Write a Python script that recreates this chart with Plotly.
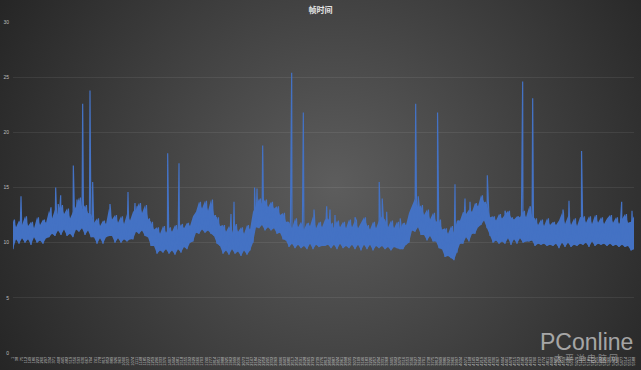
import base64
import plotly.graph_objects as go

# ---------------- data ----------------
chart_title = "帧时间"
FRAME_STEP = 27          # frames per sampled bucket
LABEL_STEP = 37          # frames between category labels

# per-bucket upper / lower frame time (ms)
frame_high = [
    12.1, 11.4, 12.0, 11.6, 12.4, 11.5, 11.9, 11.3, 12.3, 11.6,
    12.1, 11.8, 12.9, 12.2, 13.0, 12.5, 13.4, 12.6, 13.1, 12.2,
    12.8, 13.3, 14.1, 13.0, 13.4, 12.7, 12.6, 11.8, 12.2, 11.5,
    12.0, 11.7, 13.1, 12.1, 12.5, 11.8, 12.4, 11.7, 12.6, 12.0,
    12.8, 13.0, 13.6, 12.7, 13.4, 12.2, 11.9, 11.2, 11.4, 10.8,
    11.5, 10.9, 11.4, 11.0, 11.6, 11.1, 11.7, 11.3, 11.8, 11.5,
    12.4, 12.8, 13.7, 13.1, 13.8, 12.9, 13.9, 12.5, 12.3, 11.5,
    11.6, 11.0, 11.5, 10.9, 11.7, 11.0, 11.4, 10.8, 11.6, 11.2,
    12.8, 13.3, 14.0, 13.5, 13.9, 13.2, 13.7, 13.1, 13.3, 12.5,
    12.7, 11.9, 11.9, 11.3, 12.2, 11.4, 11.9, 11.2, 11.8, 11.5,
    12.4, 11.3, 11.9, 11.4, 12.1, 12.2, 11.8, 11.3, 12.0, 11.4,
    11.9, 11.3, 12.1, 11.4, 12.0, 11.3, 11.8, 12.3, 11.6, 11.2,
    11.9, 11.3, 12.0, 12.4, 12.1, 11.4, 12.0, 11.3, 11.9, 11.2,
    11.8, 11.6, 12.7, 13.3, 14.0, 13.1, 13.4, 12.5, 13.0, 12.1,
    12.7, 11.9, 12.1, 11.2, 11.3, 10.8, 11.5, 10.9, 12.0, 12.0,
    12.8, 12.6, 13.0, 12.8, 13.6, 13.3, 14.3, 13.7, 13.5, 12.3,
    12.4, 12.0, 12.6, 12.2, 12.5, 12.9, 12.3, 12.1, 12.4, 12.3,
    12.9, 12.3, 13.2, 12.4, 12.2, 11.6, 12.1, 11.5, 12.2, 11.6,
    11.9, 11.6, 12.0, 12.7, 11.7, 12.4, 11.6, 12.2, 11.5, 12.3,
    12.4, 11.8, 12.4, 11.7, 12.5, 11.8, 12.3, 11.7, 12.2, 12.5,
    11.8, 12.3, 11.7, 12.2, 12.6, 11.8, 11.9, 12.4,
]
frame_low = [
    9.4, 10.3, 9.9, 10.4, 10.0, 10.3, 9.8, 10.5, 10.0, 10.2,
    9.9, 10.4, 10.5, 10.8, 10.6, 11.1, 10.7, 11.2, 10.6, 10.8,
    10.5, 11.2, 11.0, 11.3, 10.7, 11.1, 10.5, 10.5, 9.9, 10.4,
    9.9, 10.5, 10.6, 10.6, 10.0, 10.4, 10.0, 10.3, 10.1, 10.3,
    10.3, 11.0, 10.8, 11.1, 10.6, 10.5, 9.7, 9.7, 9.0, 9.3,
    9.1, 9.4, 9.0, 9.3, 8.9, 9.4, 9.1, 9.6, 9.4, 10.0,
    10.1, 10.9, 10.8, 11.2, 10.9, 11.1, 10.8, 10.6, 9.9, 9.7,
    9.0, 9.3, 8.9, 9.4, 9.0, 9.2, 8.8, 9.3, 8.9, 9.3,
    10.0, 11.4, 11.3, 11.6, 11.1, 11.4, 11.1, 11.3, 10.8, 10.9,
    10.3, 10.2, 9.6, 9.9, 9.5, 9.8, 9.5, 9.7, 9.4, 9.9,
    9.4, 9.8, 9.6, 9.7, 9.7, 9.8, 9.5, 9.8, 9.4, 9.9,
    9.5, 9.7, 9.5, 9.8, 9.4, 9.8, 9.3, 9.8, 9.4, 9.8,
    9.3, 9.7, 9.5, 9.7, 9.4, 9.6, 9.3, 9.6, 9.5, 9.4,
    9.4, 9.8, 10.0, 11.1, 11.0, 11.4, 10.7, 10.7, 10.2, 10.6,
    10.1, 10.1, 9.5, 9.4, 8.7, 8.8, 8.6, 8.4, 9.1, 9.9,
    9.9, 10.5, 10.1, 10.8, 10.8, 11.4, 11.6, 12.0, 11.3, 10.6,
    10.0, 10.2, 9.9, 10.1, 9.9, 10.4, 9.8, 10.3, 9.9, 10.4,
    10.0, 10.1, 10.1, 10.2, 9.7, 9.9, 9.8, 9.9, 9.7, 9.8,
    9.7, 9.9, 9.5, 10.0, 9.6, 10.0, 9.6, 9.8, 9.7, 9.9,
    9.8, 10.0, 9.6, 10.1, 9.7, 9.9, 9.8, 9.9, 9.7, 9.9,
    9.7, 9.8, 9.6, 9.8, 9.6, 9.7, 9.3, 9.4,
]

# single-frame spikes: frame number and frame time (ms)
spike_frame = [73, 343, 385, 408, 430, 544, 577, 628, 694, 718, 874, 1036,
               1099, 1117, 1393, 1495, 1792, 1963, 1990, 2175, 2197, 2248,
               2509, 2614, 2710, 2824, 2854, 2899, 3079, 3297, 3324, 3364,
               3486, 3625, 3648, 3822, 3979, 4069, 4114, 4270, 4429, 4588,
               4654, 4678, 4951, 5005, 5118, 5479, 5572]
spike_ms = [14.2, 13.2, 15.0, 13.5, 14.3, 17.0, 13.9, 22.6, 23.8, 15.5, 13.5, 14.6,
            13.6, 13.3, 18.1, 17.2, 13.9, 12.6, 13.7, 15.0, 14.9, 18.8,
            25.4, 21.8, 13.0, 13.3, 13.0, 12.5, 12.3, 15.5, 14.0, 12.8,
            12.2, 22.6, 14.2, 21.8, 15.3, 14.0, 13.7, 16.1, 12.9, 24.6,
            13.3, 23.1, 13.0, 13.8, 18.3, 13.7, 12.9]

y_ticks = [0, 5, 10, 15, 20, 25, 30]

# ---------------- build series ----------------
bucket_frame = [1 + FRAME_STEP * i for i in range(len(frame_high))]
last_frame = bucket_frame[-1]
half = FRAME_STEP // 2

points = []
for f, lo, hi in zip(bucket_frame, frame_low, frame_high):
    points.append((f, lo))
    points.append((f + half, hi))
for f, v in zip(spike_frame, spike_ms):
    points.append((f, v))
points.sort(key=lambda p: p[0])
line_x = [p[0] for p in points]
line_y = [p[1] for p in points]

tick_frames = list(range(1, last_frame + 1, LABEL_STEP))
tick_text = [str(v) for v in tick_frames]

BLUE = "#4472C4"

fig = go.Figure()
# band fill
fig.add_trace(go.Scatter(
    x=bucket_frame + bucket_frame[::-1],
    y=frame_high + frame_low[::-1],
    fill="toself", fillcolor=BLUE, line=dict(width=0),
    mode="lines", hoverinfo="skip", showlegend=False,
))
# frame-time line
fig.add_trace(go.Scatter(
    x=line_x, y=line_y, mode="lines",
    line=dict(color=BLUE, width=1.2),
    showlegend=False, name=chart_title,
))

# ---------------- background gradient ----------------
W, H = 641, 370
ML, MR, MT, MB = 13, 7, 22, 17
svg = (
    f"<svg xmlns='http://www.w3.org/2000/svg' width='{W}' height='{H}'>"
    "<defs><radialGradient id='g' gradientUnits='userSpaceOnUse' "
    "cx='335' cy='185' r='400'>"
    "<stop offset='0' stop-color='#5d5d5d'/>"
    "<stop offset='1' stop-color='#232323'/>"
    "</radialGradient></defs>"
    f"<rect width='{W}' height='{H}' fill='url(#g)'/></svg>"
)
src = "data:image/svg+xml;base64," + base64.b64encode(svg.encode()).decode()
pw, ph = W - ML - MR, H - MT - MB

fig.update_layout(
    width=W, height=H,
    margin=dict(l=ML, r=MR, t=MT, b=MB, pad=0, autoexpand=False),
    paper_bgcolor="#3e3e3e",
    plot_bgcolor="rgba(0,0,0,0)",
    images=[dict(
        source=src, xref="paper", yref="paper",
        x=-ML / pw, y=1 + MT / ph, sizex=W / pw, sizey=H / ph,
        xanchor="left", yanchor="top", sizing="stretch", layer="below",
    )],
    title=dict(
        text=f"<b>{chart_title}</b>", x=0.5, xanchor="center",
        y=1 - 10 / H, yanchor="middle", yref="container",
        font=dict(family="Noto Sans CJK SC", size=8, color="#e6e6e6"),
    ),
    font=dict(family="Liberation Sans, Arial", color="#bdbdbd"),
    xaxis=dict(
        range=[1, last_frame], showgrid=False, zeroline=False,
        tickmode="array", tickvals=tick_frames, ticktext=tick_text,
        tickangle=-90, tickfont=dict(size=4, color="#c4c4c4"),
        ticks="", showline=False, ticklabelstandoff=2, automargin=False,
    ),
    yaxis=dict(
        range=[0, 30], tickmode="array", tickvals=y_ticks,
        showgrid=True, gridcolor="rgba(255,255,255,0.075)", gridwidth=1,
        zeroline=False, tickfont=dict(size=5, color="#bdbdbd"),
        ticks="", showline=False, ticklabelstandoff=3, automargin=False,
    ),
    annotations=[
        dict(text="PConline", xref="paper", yref="paper",
             x=(586 - ML) / pw, y=(H - MB - 342) / ph,
             xanchor="center", yanchor="middle", showarrow=False,
             font=dict(family="Liberation Sans, Arial", size=23,
                       color="rgba(225,225,225,0.68)")),
        dict(text="太 平 洋 电 脑 网", xref="paper", yref="paper",
             x=(586 - ML) / pw, y=(H - MB - 358) / ph,
             xanchor="center", yanchor="middle", showarrow=False,
             font=dict(family="Noto Sans CJK SC", size=9,
                       color="rgba(215,215,215,0.5)")),
    ],
)

fig.write_html("out.html")
